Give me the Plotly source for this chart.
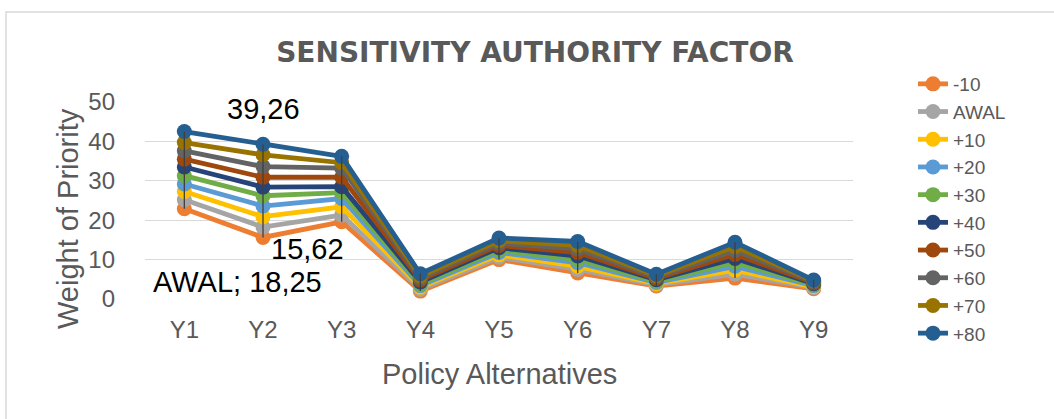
import plotly.graph_objects as go

# Policy alternatives on the category axis
categories = ["Y1", "Y2", "Y3", "Y4", "Y5", "Y6", "Y7", "Y8", "Y9"]

# Sensitivity scenarios for the authority factor
scenario_names = ["-10", "AWAL", "+10", "+20", "+30", "+40", "+50", "+60", "+70", "+80"]

minus_10 = [22.9, 15.62, 19.6, 2.0, 10.0, 6.6, 3.3, 5.3, 2.6]
awal = [25.2, 18.25, 21.3, 2.5, 10.6, 7.5, 3.6, 6.3, 2.9]
plus_10 = [27.3, 20.9, 23.4, 3.0, 11.2, 8.3, 3.9, 7.3, 3.1]
plus_20 = [29.2, 23.6, 25.5, 3.4, 11.8, 9.2, 4.2, 8.3, 3.4]
plus_30 = [31.3, 26.2, 27.0, 3.8, 12.4, 10.0, 4.5, 9.3, 3.6]
plus_40 = [33.5, 28.4, 28.5, 4.3, 13.0, 10.9, 4.9, 10.3, 3.9]
plus_50 = [35.5, 30.9, 30.9, 4.8, 13.6, 11.8, 5.2, 11.3, 4.1]
plus_60 = [37.6, 33.6, 33.2, 5.3, 14.2, 12.7, 5.6, 12.3, 4.4]
plus_70 = [39.7, 36.6, 34.6, 5.8, 14.8, 13.6, 5.9, 13.3, 4.6]
plus_80 = [42.5, 39.26, 36.2, 6.4, 15.5, 14.6, 6.3, 14.4, 4.8]

series_values = [minus_10, awal, plus_10, plus_20, plus_30,
                 plus_40, plus_50, plus_60, plus_70, plus_80]

colors = ["#ED7D31", "#A5A5A5", "#FFC000", "#5B9BD5", "#70AD47",
          "#264478", "#9E480E", "#636363", "#997300", "#255E91"]

FONT = "Liberation Sans, Arial, sans-serif"
GREY_TEXT = "#595959"

# Figure geometry (pixels)
W, H = 1054, 419
L, R, T, B = 145, 201, 102, 120
PW, PH = W - L - R, H - T - B


def px_x(x):
    return (x - L) / PW


def px_y(y):
    return (H - B - y) / PH


fig = go.Figure()

for name, vals, col in zip(scenario_names, series_values, colors):
    fig.add_trace(go.Scatter(
        x=categories, y=vals, name=name, mode="lines+markers",
        line=dict(color=col, width=4.8),
        marker=dict(color=col, size=15),
    ))

# High-low lines spanning the lowest and highest scenario in each category
hl_x, hl_y = [], []
for i, cat in enumerate(categories):
    col_vals = [s[i] for s in series_values]
    hl_x += [cat, cat, None]
    hl_y += [min(col_vals), max(col_vals), None]
fig.add_trace(go.Scatter(
    x=hl_x, y=hl_y, mode="lines", showlegend=False, hoverinfo="skip",
    line=dict(color="#404040", width=1.3),
))


def fmt(v):
    return f"{v:.2f}".replace(".", ",")


label_font = dict(family=FONT, size=29, color="#000000")
fig.add_annotation(x="Y2", y=plus_80[1], text=fmt(plus_80[1]), showarrow=False,
                   xanchor="center", yanchor="middle",
                   xshift=0, yshift=35, font=label_font)
fig.add_annotation(x="Y2", y=minus_10[1], text=fmt(minus_10[1]), showarrow=False,
                   xanchor="center", yanchor="middle",
                   xshift=44, yshift=-12, font=label_font)
fig.add_annotation(x="Y2", y=awal[1], text=f"AWAL; {fmt(awal[1])}", showarrow=False,
                   xanchor="center", yanchor="middle",
                   xshift=-26, yshift=-55, font=label_font)

# Axis titles
fig.add_annotation(xref="paper", yref="paper", x=px_x(68), y=px_y(219),
                   xanchor="center", yanchor="middle",
                   text="Weight of Priority", textangle=-90, showarrow=False,
                   font=dict(family=FONT, size=29, color=GREY_TEXT))
fig.add_annotation(xref="paper", yref="paper", x=px_x(499), y=px_y(374),
                   xanchor="center", yanchor="middle",
                   text="Policy Alternatives", showarrow=False,
                   font=dict(family=FONT, size=29, color=GREY_TEXT))

# Chart frame
fig.add_shape(type="rect", xref="paper", yref="paper",
              x0=px_x(6), x1=px_x(1070), y0=px_y(440), y1=px_y(12),
              line=dict(color="#D9D9D9", width=1.5), layer="below")

fig.update_layout(
    width=W, height=H, autosize=False,
    margin=dict(l=L, r=R, t=T, b=B),
    paper_bgcolor="white", plot_bgcolor="white",
    font=dict(family=FONT, color=GREY_TEXT),
    title=dict(text="<b>SENSITIVITY AUTHORITY FACTOR</b>",
               xref="paper", x=px_x(535), xanchor="center",
               yref="container", y=1 - 52 / H, yanchor="middle",
               font=dict(family="DejaVu Sans, Verdana, sans-serif", size=28,
                         color=GREY_TEXT)),
    legend=dict(x=px_x(913), xanchor="left", y=px_y(65), yanchor="top",
                font=dict(family=FONT, size=19, color=GREY_TEXT),
                bgcolor="rgba(0,0,0,0)", traceorder="normal",
                maxheight=400),
    xaxis=dict(showgrid=False, showline=False, zeroline=False, ticks="",
               range=[-0.5, 8.5], tickfont=dict(size=24, color=GREY_TEXT),
               ticklabelstandoff=14),
    yaxis=dict(range=[0, 50], dtick=10, showgrid=True, gridcolor="#D9D9D9",
               gridwidth=1.3, zeroline=False, showline=False, ticks="",
               tickfont=dict(size=24, color=GREY_TEXT), ticklabelstandoff=29),
)

fig.write_html("out.html")
